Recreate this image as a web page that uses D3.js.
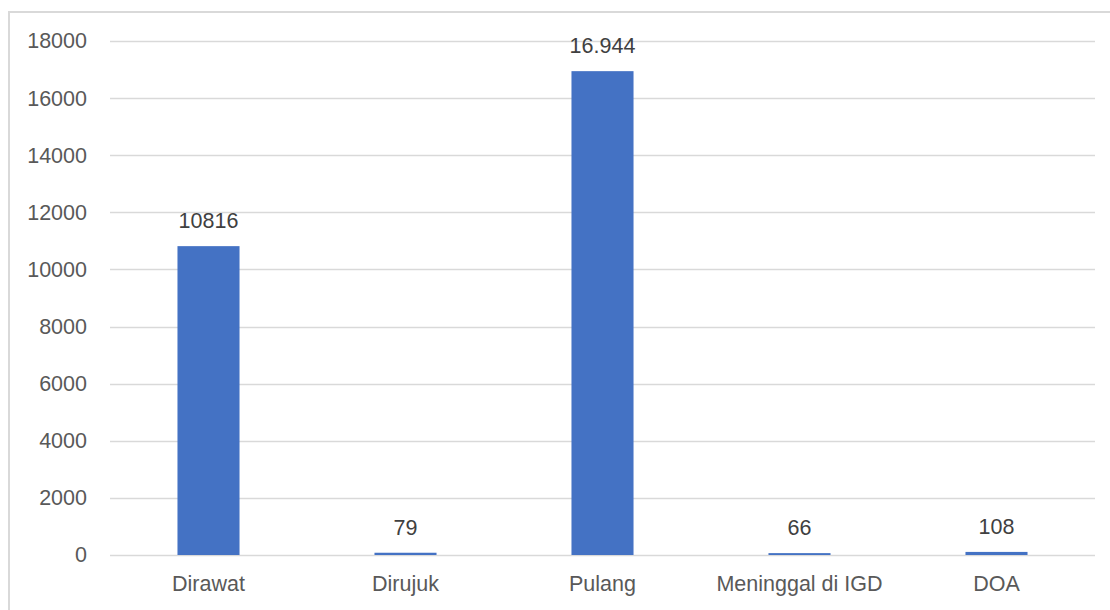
<!DOCTYPE html>
<html>
<head>
<meta charset="utf-8">
<script src="https://cdn.jsdelivr.net/npm/d3@7"></script>
<style>
  body { margin: 0; background: #fff; }
  svg { display: block; font-family: "Liberation Sans", "DejaVu Sans", sans-serif; }
</style>
</head>
<body>
<svg id="chart" width="1110" height="610"></svg>
<script>
// data
const categories = ["Dirawat", "Dirujuk", "Pulang", "Meninggal di IGD", "DOA"];
const values = [10816, 79, 16944, 66, 108];
const valueLabels = ["10816", "79", "16.944", "66", "108"];
const yTicks = [0, 2000, 4000, 6000, 8000, 10000, 12000, 14000, 16000, 18000];

const width = 1110, height = 610;
const margin = {top: 41, right: 15, bottom: 55, left: 110};

const svg = d3.select("#chart");

// chart frame (bottom and right run off the picture)
svg.append("path")
    .attr("d", `M9,${height + 5} V12 H${width + 5}`)
    .attr("fill", "none")
    .attr("stroke", "#d9d9d9")
    .attr("stroke-width", 2);

const chart = svg.append("g")
    .attr("transform", `translate(${margin.left}, ${margin.top})`);

const innerW = width - margin.left - margin.right;
const innerH = height - margin.top - margin.bottom;

const x = d3.scaleBand()
    .domain(categories)
    .range([0, innerW]);

const y = d3.scaleLinear()
    .domain([0, 18000])
    .range([innerH, 0]);

const barW = x.bandwidth() * 0.315;

// gridlines
chart.selectAll(".grid")
    .data(yTicks)
    .enter().append("line")
    .attr("class", "grid")
    .attr("x1", 0)
    .attr("x2", innerW)
    .attr("y1", (d) => Math.round(y(d)) + 0.5)
    .attr("y2", (d) => Math.round(y(d)) + 0.5)
    .attr("stroke", "#d9d9d9")
    .attr("stroke-width", 1.3);

// y axis labels
const yAxis = chart.append("g")
    .attr("transform", "translate(-23, 0)")
    .call(d3.axisLeft(y).tickValues(yTicks).tickSize(0).tickPadding(0).tickFormat(d3.format("d")));
yAxis.select(".domain").remove();
yAxis.selectAll("text")
    .attr("fill", "#595959")
    .style("font-size", "21.5px")
    .style("font-family", "Liberation Sans, sans-serif");

// x axis labels
const xAxis = chart.append("g")
    .attr("transform", `translate(0, ${innerH})`)
    .call(d3.axisBottom(x).tickSize(0).tickPadding(21));
xAxis.select(".domain").remove();
xAxis.selectAll("text")
    .attr("fill", "#595959")
    .style("font-size", "21.5px")
    .style("font-family", "Liberation Sans, sans-serif");

// bars
chart.selectAll(".bar")
    .data(values)
    .enter().append("rect")
    .attr("class", "bar")
    .attr("x", (d, i) => x(categories[i]) + (x.bandwidth() - barW) / 2)
    .attr("y", (d) => y(d))
    .attr("width", barW)
    .attr("height", (d) => innerH - y(d))
    .style("fill", "#4472c4");

// value labels
chart.selectAll(".label")
    .data(values)
    .enter().append("text")
    .attr("class", "label")
    .attr("x", (d, i) => x(categories[i]) + x.bandwidth() / 2)
    .attr("y", (d) => y(d) - 18)
    .attr("text-anchor", "middle")
    .attr("fill", "#404040")
    .style("font-size", "21.5px")
    .text((d, i) => valueLabels[i]);
</script>
</body>
</html>
